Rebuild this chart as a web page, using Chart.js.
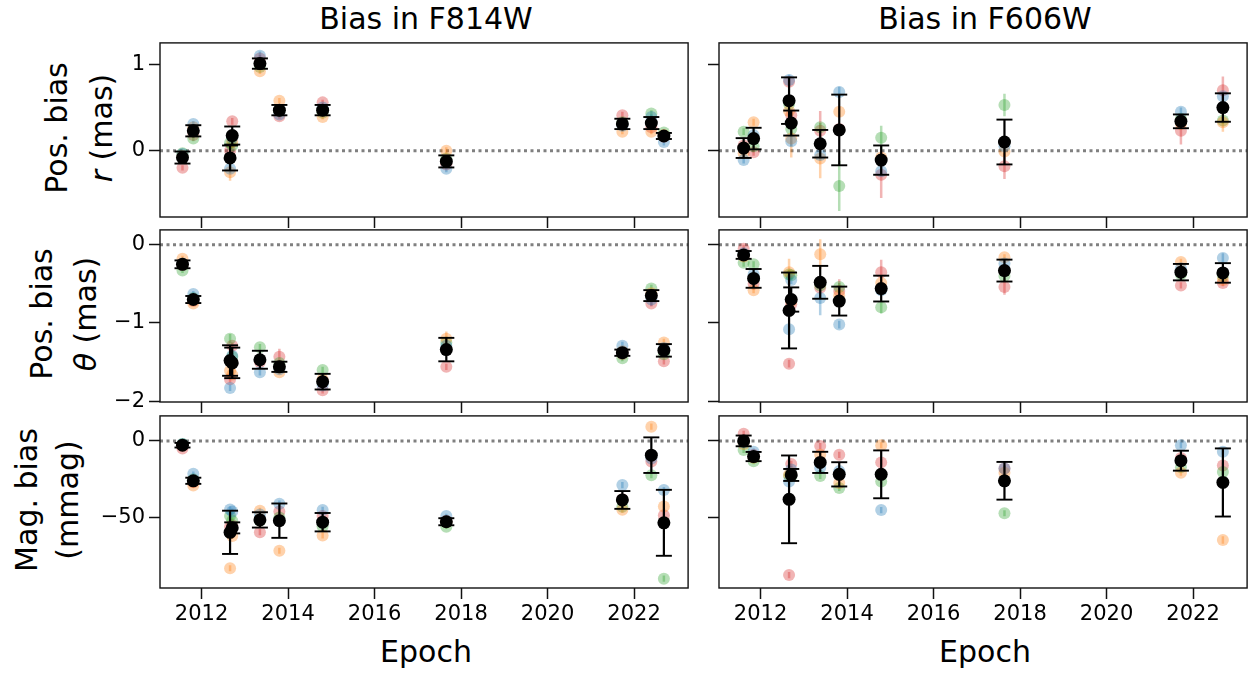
<!DOCTYPE html>
<html><head><meta charset="utf-8">
<script src="https://cdn.jsdelivr.net/npm/chart.js@4.4.1/dist/chart.umd.min.js"></script>
<style>
html,body{margin:0;padding:0;background:#fff;}
body{width:1258px;height:673px;position:relative;overflow:hidden;font-family:"DejaVu Sans",sans-serif;}
canvas{position:absolute;}
.t{position:absolute;white-space:nowrap;font-size:30px;line-height:1;color:#000;transform:translate(-50%,-50%);}
.r{transform:translate(-50%,-50%) rotate(-90deg);}
</style></head><body>
<div class="t" style="left:426px;top:19px;">Bias in F814W</div>
<div class="t" style="left:985px;top:19px;">Bias in F606W</div>
<div class="t" style="left:426px;top:652px;">Epoch</div>
<div class="t" style="left:985px;top:652px;">Epoch</div>
<div class="t r" style="left:57px;top:128px;">Pos. bias</div>
<div class="t r" style="left:102px;top:128px;"><i>r</i> (mas)</div>
<div class="t r" style="left:42px;top:314px;">Pos. bias</div>
<div class="t r" style="left:86px;top:314px;"><i>θ</i> (mas)</div>
<div class="t r" style="left:27px;top:500px;">Mag. bias</div>
<div class="t r" style="left:68px;top:500px;">(mmag)</div>
<script>
// ---- axes ----
const epochRange = [2011.04, 2023.25];
const epochTicks = [2012, 2014, 2016, 2018, 2020, 2022];
const rRange = [-0.77, 1.25];
const rTicks = [0, 1];
const thetaRange = [-2.01, 0.19];
const thetaTicks = [-2, -1, 0];
const magRange = [-95.9, 16.3];
const magTicks = [-50, 0];

// ---- epochs ----
const epochsF814W = [2011.56, 2011.81, 2012.66, 2012.71, 2013.35, 2013.80, 2014.80, 2017.66, 2021.73, 2022.40, 2022.69];
const epochsF606W = [2011.61, 2011.84, 2012.66, 2012.71, 2013.38, 2013.82, 2014.79, 2017.64, 2021.72, 2022.69];

// ---- F814W, r ----
const rF814W_mean   = [-0.08, 0.23, -0.085, 0.175, 1.01, 0.47, 0.47, -0.125, 0.31, 0.32, 0.17];
const rF814W_err    = [0.07, 0.065, 0.145, 0.105, 0.06, 0.06, 0.06, 0.07, 0.06, 0.07, 0.035];
const rF814W_blue   = [-0.04, 0.31, -0.21, 0.15, 1.10, 0.42, 0.50, -0.21, 0.29, 0.39, 0.10];
const rF814W_orange = [-0.06, 0.27, -0.25, 0.10, 0.92, 0.58, 0.39, 0.00, 0.22, 0.22, 0.18];
const rF814W_green  = [-0.03, 0.14, 0.09, 0.06, 0.97, 0.46, 0.44, -0.09, 0.33, 0.43, 0.21];
const rF814W_red    = [-0.20, 0.18, 0.00, 0.34, 1.07, 0.40, 0.56, -0.16, 0.41, 0.27, 0.16];
const rF814W_blueErr   = [0.03, 0.03, 0.05, 0.04, 0.05, 0.03, 0.03, 0.04, 0.03, 0.03, 0.04];
const rF814W_orangeErr = [0.03, 0.03, 0.10, 0.04, 0.03, 0.03, 0.03, 0.04, 0.03, 0.03, 0.03];
const rF814W_greenErr  = [0.03, 0.03, 0.04, 0.04, 0.03, 0.03, 0.03, 0.03, 0.03, 0.04, 0.03];
const rF814W_redErr    = [0.03, 0.03, 0.04, 0.04, 0.04, 0.03, 0.03, 0.03, 0.04, 0.03, 0.03];

// ---- F606W, r ----
const rF606W_mean   = [0.03, 0.14, 0.58, 0.32, 0.08, 0.24, -0.11, 0.10, 0.34, 0.50];
const rF606W_err    = [0.115, 0.125, 0.27, 0.145, 0.16, 0.41, 0.17, 0.26, 0.08, 0.165];
const rF606W_blue   = [-0.11, 0.18, 0.82, 0.11, -0.05, 0.68, -0.24, 0.05, 0.45, 0.63];
const rF606W_orange = [-0.03, 0.33, 0.46, 0.14, -0.09, 0.45, -0.08, -0.01, 0.31, 0.33];
const rF606W_green  = [0.22, 0.05, 0.54, 0.25, 0.27, -0.41, 0.15, 0.53, 0.37, 0.35];
const rF606W_red    = [0.06, -0.02, 0.80, 0.41, 0.23, 0.25, -0.28, -0.18, 0.23, 0.70];
const rF606W_blueErr   = [0.04, 0.05, 0.06, 0.06, 0.05, 0.06, 0.05, 0.05, 0.05, 0.05];
const rF606W_orangeErr = [0.04, 0.04, 0.06, 0.22, 0.23, 0.06, 0.05, 0.05, 0.05, 0.11];
const rF606W_greenErr  = [0.04, 0.04, 0.05, 0.05, 0.05, 0.29, 0.14, 0.13, 0.04, 0.04];
const rF606W_redErr    = [0.05, 0.04, 0.06, 0.06, 0.23, 0.05, 0.27, 0.15, 0.16, 0.16];

// ---- F814W, theta ----
const tF814W_mean   = [-0.25, -0.70, -1.48, -1.51, -1.47, -1.56, -1.75, -1.34, -1.38, -0.65, -1.35];
const tF814W_err    = [0.05, 0.045, 0.195, 0.195, 0.115, 0.065, 0.10, 0.15, 0.04, 0.07, 0.08];
const tF814W_blue   = [-0.24, -0.63, -1.83, -1.42, -1.63, -1.59, -1.80, -1.29, -1.29, -0.70, -1.32];
const tF814W_orange = [-0.18, -0.75, -1.61, -1.66, -1.47, -1.63, -1.72, -1.20, -1.36, -0.62, -1.25];
const tF814W_green  = [-0.33, -0.68, -1.20, -1.43, -1.31, -1.51, -1.60, -1.25, -1.45, -0.56, -1.40];
const tF814W_red    = [-0.26, -0.72, -1.72, -1.29, -1.50, -1.43, -1.86, -1.56, -1.40, -0.75, -1.49];
const tF814W_blueErr   = [0.03, 0.04, 0.04, 0.04, 0.04, 0.03, 0.04, 0.04, 0.05, 0.08, 0.04];
const tF814W_orangeErr = [0.04, 0.03, 0.04, 0.04, 0.04, 0.03, 0.04, 0.09, 0.04, 0.04, 0.05];
const tF814W_greenErr  = [0.03, 0.03, 0.06, 0.04, 0.04, 0.03, 0.04, 0.04, 0.04, 0.05, 0.04];
const tF814W_redErr    = [0.03, 0.03, 0.04, 0.04, 0.04, 0.10, 0.04, 0.04, 0.04, 0.04, 0.04];

// ---- F606W, theta ----
const tF606W_mean   = [-0.13, -0.43, -0.84, -0.70, -0.48, -0.72, -0.56, -0.33, -0.35, -0.36];
const tF606W_err    = [0.05, 0.12, 0.485, 0.155, 0.21, 0.185, 0.165, 0.14, 0.105, 0.125];
const tF606W_blue   = [-0.11, -0.38, -1.08, -0.45, -0.68, -1.02, -0.58, -0.24, -0.30, -0.17];
const tF606W_orange = [-0.15, -0.58, -0.35, -0.72, -0.12, -0.65, -0.49, -0.16, -0.22, -0.45];
const tF606W_green  = [-0.23, -0.25, -0.38, -0.39, -0.52, -0.54, -0.80, -0.40, -0.38, -0.40];
const tF606W_red    = [-0.05, -0.50, -1.52, -0.76, -0.55, -0.59, -0.35, -0.54, -0.52, -0.49];
const tF606W_blueErr   = [0.04, 0.04, 0.05, 0.05, 0.22, 0.05, 0.05, 0.04, 0.04, 0.06];
const tF606W_orangeErr = [0.04, 0.04, 0.17, 0.05, 0.19, 0.05, 0.05, 0.04, 0.04, 0.04];
const tF606W_greenErr  = [0.05, 0.04, 0.05, 0.05, 0.05, 0.05, 0.08, 0.05, 0.04, 0.04];
const tF606W_redErr    = [0.05, 0.04, 0.05, 0.05, 0.05, 0.15, 0.16, 0.10, 0.04, 0.04];

// ---- F814W, magnitude (mmag) ----
const mF814W_mean   = [-2.8, -26, -59.6, -56.7, -51.5, -52, -53, -52.7, -38.5, -9.3, -53.4];
const mF814W_err    = [1.5, 2, 14.1, 3.6, 5, 11.2, 6, 2.3, 5.8, 11.6, 21.5];
const mF814W_blue   = [-2, -21.4, -44.7, -46, -48, -40.9, -45, -49, -28.8, -11.4, -32];
const mF814W_orange = [-3, -29, -83, -62, -45.5, -71.6, -61.6, -53, -44.9, 9.3, -42.8];
const mF814W_green  = [-2, -25, -49, -52, -52, -50, -55.7, -56, -43, -22.4, -89.8];
const mF814W_red    = [-4.9, -27, -56, -55, -59.5, -46, -49, -52, -38, -13.5, -48.5];
const mF814W_blueErr   = [1.5, 1.5, 2, 2, 2, 2, 2, 1.5, 2, 2, 2];
const mF814W_orangeErr = [1.5, 1.5, 2, 2, 2, 2, 2, 1.5, 2, 2, 2];
const mF814W_greenErr  = [1.5, 1.5, 2, 2, 2, 2, 2, 1.5, 2, 2, 2];
const mF814W_redErr    = [1.5, 1.5, 2, 2, 2, 2, 2, 1.5, 2, 2, 2];

// ---- F606W, magnitude (mmag) ----
const mF606W_mean   = [0, -10.2, -38.1, -22.2, -14, -21.8, -21.8, -26, -12.9, -27.1];
const mF606W_err    = [3.5, 3, 28.6, 3.9, 6.9, 7.9, 15.6, 12.3, 6.5, 22.2];
const mF606W_blue   = [-1, -7, -26.5, -18.6, -17.6, -19.7, -45.1, -18, -2.8, -7];
const mF606W_orange = [-2, -11, -22, -21, -9.1, -27.5, -2.8, -20.8, -20.8, -64.6];
const mF606W_green  = [-5.9, -13.3, -22.9, -23, -22.9, -30.7, -26.5, -47.2, -17.2, -20.3];
const mF606W_red    = [4.7, -9, -87.5, -15, -3.4, -9.1, -14, -18, -11.2, -16.1];
const mF606W_blueErr   = [2, 2, 2, 2, 2, 2, 2, 2, 2, 2];
const mF606W_orangeErr = [2, 2, 2, 2, 2, 2, 2, 2, 2, 2.5];
const mF606W_greenErr  = [2, 2, 2, 2, 2, 2, 2, 2, 2, 2];
const mF606W_redErr    = [2, 2, 2, 2, 2, 2, 2, 2, 2, 2];

// ---- styling ----
const seriesColors = {blue:[31,119,180], orange:[255,127,14], green:[44,160,44], red:[214,39,40]};
const alpha = 0.35;
const rgba = (c, a) => `rgba(${c[0]},${c[1]},${c[2]},${a})`;
const minus = v => (v < 0 ? '\u2212' + Math.abs(v) : String(v));

function pts(xs, ys) { return xs.map((x, i) => ({x, y: ys[i]})); }
function errPts(xs, ys, es) {
  const out = [];
  xs.forEach((x, i) => { out.push({x, y: ys[i] - es[i]}, {x, y: ys[i] + es[i]}, {x, y: null}); });
  return out;
}

const framePlugin = {
  id: 'frame',
  afterDatasetsDraw(chart) {
    const {ctx, chartArea: a} = chart;
    ctx.save();
    ctx.strokeStyle = '#111';
    ctx.lineWidth = 1.4;
    ctx.strokeRect(a.left, a.top, a.right - a.left, a.bottom - a.top);
    ctx.restore();
  }
};

const cols = [{left:160, right:692}, {left:719, right:1251}];
const rows = [{top:39, bottom:217}, {top:226, bottom:402}, {top:412, bottom:588}];

function panel(col, row, epochs, s, yRange, yTicks) {
  const padL = col === 0 ? 60 : 14, padR = 6, padT = 6, padB = row === 2 ? 45 : 16;
  const c = cols[col], r = rows[row];
  const W = c.right - c.left + padL + padR, H = r.bottom - r.top + padT + padB;
  const cv = document.createElement('canvas');
  cv.width = W; cv.height = H;
  cv.style.left = (c.left - padL) + 'px';
  cv.style.top = (r.top - padT) + 'px';
  cv.style.width = W + 'px'; cv.style.height = H + 'px';
  document.body.appendChild(cv);

  const datasets = [];
  datasets.push({type:'line', data:[{x:epochRange[0], y:0}, {x:epochRange[1], y:0}],
    borderColor:'#808080', borderWidth:3, borderDash:[3, 3.5], pointRadius:0, order:10});
  ['blue','orange','green','red'].forEach(name => {
    datasets.push({type:'line', data: errPts(epochs, s[name], s[name + 'Err']),
      borderColor: rgba(seriesColors[name], alpha), borderWidth: 2.5, pointRadius: 0,
      spanGaps: false, order: 8});
    datasets.push({type:'scatter', data: pts(epochs, s[name]),
      backgroundColor: rgba(seriesColors[name], alpha), borderWidth: 0, pointRadius: 6, order: 6});
  });
  datasets.push({type:'line', data: errPts(epochs, s.mean, s.err),
    borderColor:'#000', borderWidth:2.2, spanGaps:false, pointStyle:'line', pointRadius:8,
    pointBorderWidth:1.9, pointBorderColor:'#000', order:4});
  datasets.push({type:'scatter', data: pts(epochs, s.mean),
    backgroundColor:'#000', borderWidth:0, pointRadius:6.5, order:2});

  const tickFont = {family:'DejaVu Sans', size:21};
  new Chart(cv, {
    type: 'scatter',
    data: {datasets},
    plugins: [framePlugin],
    options: {
      responsive: false, animation: false, events: [],
      layout: {padding: {top: padT, right: padR, left: 0, bottom: 0}},
      plugins: {legend: {display: false}, tooltip: {enabled: false}},
      scales: {
        x: {type:'linear', position:'bottom', min: epochRange[0], max: epochRange[1],
          afterBuildTicks: sc => { sc.ticks = epochTicks.map(v => ({value: v})); },
          afterFit: sc => { sc.height = padB; sc.paddingLeft = 0; sc.paddingRight = 0; },
          grid: {drawOnChartArea:false, drawTicks:true, tickLength:11, tickWidth:1.5, tickColor:'#111'},
          border: {display:false},
          ticks: {display: row === 2, font: tickFont, color:'#000', padding:3, maxRotation:0,
            callback: v => String(v)}},
        y: {type:'linear', position:'left', min: yRange[0], max: yRange[1],
          afterBuildTicks: sc => { sc.ticks = yTicks.map(v => ({value: v})); },
          afterFit: sc => { sc.width = padL; sc.paddingTop = 0; sc.paddingBottom = 0; },
          grid: {drawOnChartArea:false, drawTicks:true, tickLength:11, tickWidth:1.5, tickColor:'#111'},
          border: {display:false},
          ticks: {display: col === 0, font: tickFont, color:'#000', padding:4, callback: v => minus(v)}}
      }
    }
  });
}

panel(0, 0, epochsF814W, {mean:rF814W_mean, err:rF814W_err, blue:rF814W_blue, orange:rF814W_orange, green:rF814W_green, red:rF814W_red,
  blueErr:rF814W_blueErr, orangeErr:rF814W_orangeErr, greenErr:rF814W_greenErr, redErr:rF814W_redErr}, rRange, rTicks);
panel(1, 0, epochsF606W, {mean:rF606W_mean, err:rF606W_err, blue:rF606W_blue, orange:rF606W_orange, green:rF606W_green, red:rF606W_red,
  blueErr:rF606W_blueErr, orangeErr:rF606W_orangeErr, greenErr:rF606W_greenErr, redErr:rF606W_redErr}, rRange, rTicks);
panel(0, 1, epochsF814W, {mean:tF814W_mean, err:tF814W_err, blue:tF814W_blue, orange:tF814W_orange, green:tF814W_green, red:tF814W_red,
  blueErr:tF814W_blueErr, orangeErr:tF814W_orangeErr, greenErr:tF814W_greenErr, redErr:tF814W_redErr}, thetaRange, thetaTicks);
panel(1, 1, epochsF606W, {mean:tF606W_mean, err:tF606W_err, blue:tF606W_blue, orange:tF606W_orange, green:tF606W_green, red:tF606W_red,
  blueErr:tF606W_blueErr, orangeErr:tF606W_orangeErr, greenErr:tF606W_greenErr, redErr:tF606W_redErr}, thetaRange, thetaTicks);
panel(0, 2, epochsF814W, {mean:mF814W_mean, err:mF814W_err, blue:mF814W_blue, orange:mF814W_orange, green:mF814W_green, red:mF814W_red,
  blueErr:mF814W_blueErr, orangeErr:mF814W_orangeErr, greenErr:mF814W_greenErr, redErr:mF814W_redErr}, magRange, magTicks);
panel(1, 2, epochsF606W, {mean:mF606W_mean, err:mF606W_err, blue:mF606W_blue, orange:mF606W_orange, green:mF606W_green, red:mF606W_red,
  blueErr:mF606W_blueErr, orangeErr:mF606W_orangeErr, greenErr:mF606W_greenErr, redErr:mF606W_redErr}, magRange, magTicks);
</script>
</body></html>
